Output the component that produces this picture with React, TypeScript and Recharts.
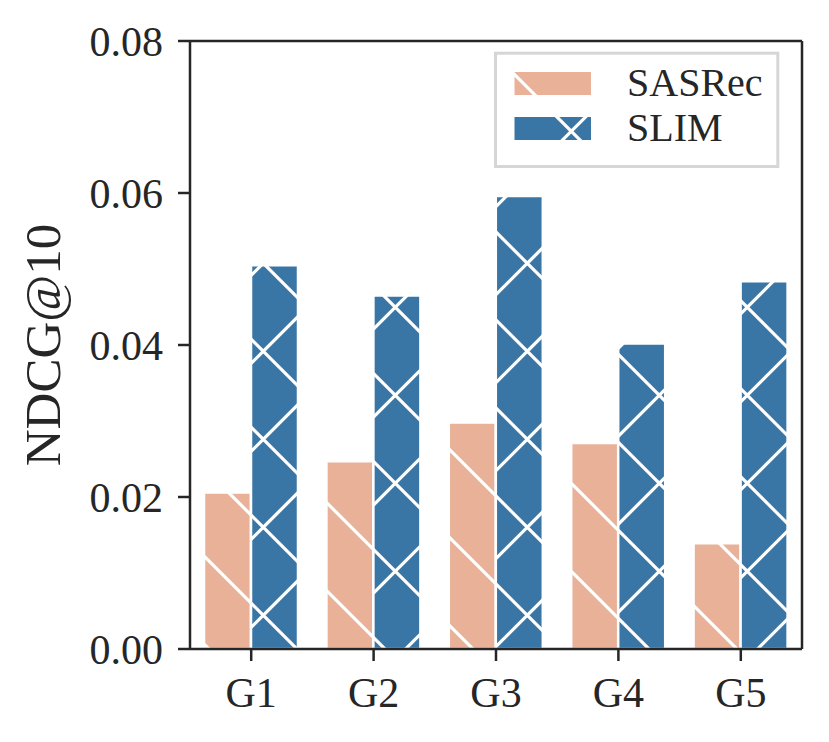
import { BarChart, Bar, XAxis, YAxis, Legend } from 'recharts'

const groups = ['G1', 'G2', 'G3', 'G4', 'G5']
const sasrec = [0.0206, 0.0247, 0.0298, 0.0271, 0.0139]
const slim = [0.0505, 0.0465, 0.0596, 0.0402, 0.0484]
const yTicks = [0, 0.02, 0.04, 0.06, 0.08]

const data = groups.map((g, i) => ({ group: g, SASRec: sasrec[i], SLIM: slim[i] }))

const serif = "'Liberation Serif', 'Times New Roman', serif"
const ink = '#262626'
const salmon = '#E8B198'
const blue = '#3A76A5'
const T = 88

const legendItems = [
  { name: 'SASRec', fill: 'url(#hatchSASRec)' },
  { name: 'SLIM', fill: 'url(#hatchSLIM)' },
]

// hatch tiles sit on the page grid, like matplotlib's
function Patterns() {
  return (
    <svg width={0} height={0} style={{ position: 'absolute' }}>
      <defs>
        <pattern id="hatchSASRec" patternUnits="userSpaceOnUse" width={T} height={T}>
          <rect width={T} height={T} fill={salmon} />
          <path d="M-4,-4 L92,92 M-4,84 L4,92 M84,-4 L92,4" stroke="#fff" strokeWidth={3.2} />
        </pattern>
        <pattern id="hatchSLIM" patternUnits="userSpaceOnUse" width={T} height={T}>
          <rect width={T} height={T} fill={blue} />
          <path d="M-4,-4 L92,92 M-4,84 L4,92 M84,-4 L92,4" stroke="#fff" strokeWidth={3.2} />
          <path d="M-4,90.6 L90.6,-4 M-4,2.6 L2.6,-4 M83,91.6 L91.6,83" stroke="#fff" strokeWidth={3.2} />
        </pattern>
      </defs>
    </svg>
  )
}

const YLabel = (props: any) => {
  const vb = props.viewBox || { x: 0, y: 41, width: 190, height: 608 }
  const cx = 60
  const cy = vb.y + vb.height / 2
  return (
    <text x={cx} y={cy} transform={`rotate(-90, ${cx}, ${cy})`} textAnchor="middle"
      fill={ink} fontSize={51} fontFamily={serif}>
      NDCG@10
    </text>
  )
}

const LegendBox = () => (
  <svg width={829} height={742}>
    <rect x={495.5} y={53.2} width={282.3} height={113.3} fill="#fff" stroke="#d6d6d6" strokeWidth={3} />
    {legendItems.map((it, i) => (
      <g key={it.name}>
        <rect x={514.5} y={72 + i * 45} width={76.5} height={23} fill={it.fill} />
        <text x={627} y={96 + i * 44.5} fill={ink} fontSize={40} fontFamily={serif}>{it.name}</text>
      </g>
    ))}
  </svg>
)

export default function App() {
  const axisLine = { stroke: ink, strokeWidth: 2.5 }
  const tick = { fill: ink, fontSize: 42, fontFamily: serif }
  return (
    <div style={{ position: 'absolute', left: 0, top: 0, width: 829, height: 742, background: '#fff' }}>
      <Patterns />
      <BarChart width={829} height={742} data={data} barGap={0}
        margin={{ top: 40, right: 26, left: 0, bottom: 0 }}>
        <XAxis dataKey="group" height={93} tick={tick} tickSize={12} tickMargin={16}
          axisLine={axisLine} tickLine={axisLine} />
        <XAxis xAxisId="top" dataKey="group" orientation="top" height={1} tick={false}
          tickLine={false} axisLine={axisLine} />
        <YAxis width={190} domain={[0, 0.08]} ticks={yTicks} tickFormatter={(v: number) => v.toFixed(2)}
          tick={tick} tickSize={12} tickMargin={15} axisLine={axisLine} tickLine={axisLine}
          label={{ value: 'NDCG@10', content: YLabel }} />
        <YAxis yAxisId="right" orientation="right" width={1} domain={[0, 0.08]} tick={false}
          tickLine={false} axisLine={axisLine} />
        <Legend layout="vertical" align="center" verticalAlign="middle" content={LegendBox}
          wrapperStyle={{ left: 0, top: 0, width: 829, height: 742, pointerEvents: 'none' }} />
        <Bar dataKey="SASRec" fill="url(#hatchSASRec)" stroke="#fff" strokeWidth={2.5}
          barSize={47} isAnimationActive={false} />
        <Bar dataKey="SLIM" fill="url(#hatchSLIM)" stroke="#fff" strokeWidth={2.5}
          barSize={47} isAnimationActive={false} />
      </BarChart>
    </div>
  )
}
